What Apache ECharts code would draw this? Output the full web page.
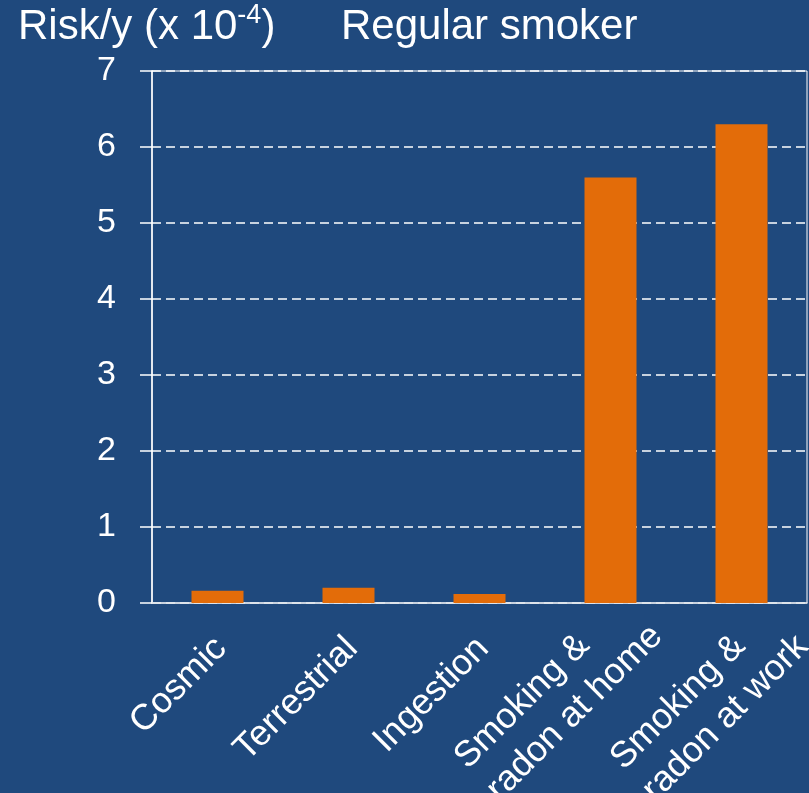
<!DOCTYPE html>
<html>
<head>
<meta charset="utf-8">
<script src="https://cdn.jsdelivr.net/npm/echarts@6/dist/echarts.min.js"></script>
<style>
html,body{margin:0;padding:0;background:#1F497D;}
#c{width:809px;height:793px;}
</style>
</head>
<body>
<div id="c"></div>
<script>
// ---- data ----
const categories = ['Cosmic', 'Terrestrial', 'Ingestion', 'Smoking &\nradon at home', 'Smoking &\nradon at work'];
const riskValues = [0.16, 0.2, 0.12, 5.6, 6.3];
const yTickValues = [0, 1, 2, 3, 4, 5, 6, 7];
const titleMain = 'Risk/y (x 10';
const titleExponent = '-4';
const titleClose = ')';
const subtitleText = 'Regular smoker';

// ---- style ----
const FONT = "'Liberation Sans', Arial, Helvetica, sans-serif";
// label offsets along text direction (u) and across it (v), per category
const labelShift = [[1, 4], [1, 4], [1, 4], [40, 3], [43, 21]];

const chart = echarts.init(document.getElementById('c'), null, {renderer: 'canvas'});

const xData = categories.map((c, i) => ({
  value: c,
  textStyle: { padding: [2 * labelShift[i][1], -labelShift[i][0], 0, 0] }
}));

const option = {
  backgroundColor: '#1F497D',
  animation: false,
  title: [
    {
      text: '{a|' + titleMain + '}{s|' + titleExponent + '}{a|' + titleClose + '}',
      left: 18, top: 2, padding: 0,
      textStyle: {
        fontWeight: 'normal',
        rich: {
          a: { fontSize: 42, color: '#fff', fontFamily: FONT, fontWeight: 'normal', lineHeight: 50 },
          s: { fontSize: 27, color: '#fff', fontFamily: FONT, fontWeight: 'normal', lineHeight: 44, verticalAlign: 'top' }
        }
      }
    },
    {
      text: subtitleText,
      left: 341, top: 2, padding: 0,
      textStyle: { fontSize: 42, color: '#fff', fontFamily: FONT, fontWeight: 'normal', lineHeight: 50 }
    }
  ],
  grid: {
    left: 152, right: 2, top: 71, bottom: 190,
    outerBoundsMode: 'none',
    containLabel: false,
    show: true, borderColor: '#ffffff', borderWidth: 1, backgroundColor: 'transparent'
  },
  xAxis: {
    type: 'category',
    data: xData,
    axisTick: { show: false },
    axisLine: { show: true, lineStyle: { color: '#dde2ea', width: 1.5 } },
    splitLine: { show: false },
    axisLabel: {
      interval: 0,
      rotate: 45,
      margin: 38,
      color: '#fff',
      fontSize: 36,
      fontFamily: FONT,
      lineHeight: 45,
      formatter: v => v.split('\n').map(s => '{a|' + s + '}').join('\n'),
      rich: {
        a: { align: 'left', fontSize: 36, fontFamily: FONT, color: '#fff', lineHeight: 45 }
      }
    }
  },
  yAxis: {
    type: 'value',
    min: yTickValues[0],
    max: yTickValues[yTickValues.length - 1],
    interval: 1,
    axisLine: { show: true, lineStyle: { color: '#fff', width: 1.5 } },
    axisTick: { show: true, inside: false, length: 12, lineStyle: { color: '#fff', width: 1.5 } },
    axisLabel: { color: '#fff', fontSize: 34, fontFamily: FONT, margin: 36 },
    splitLine: { show: true, lineStyle: { color: '#fff', type: [9, 5], width: 1.5 } }
  },
  series: [{
    type: 'bar',
    data: riskValues,
    barWidth: 52,
    itemStyle: { color: '#E36C09' }
  }]
};
chart.setOption(option);
</script>
</body>
</html>
